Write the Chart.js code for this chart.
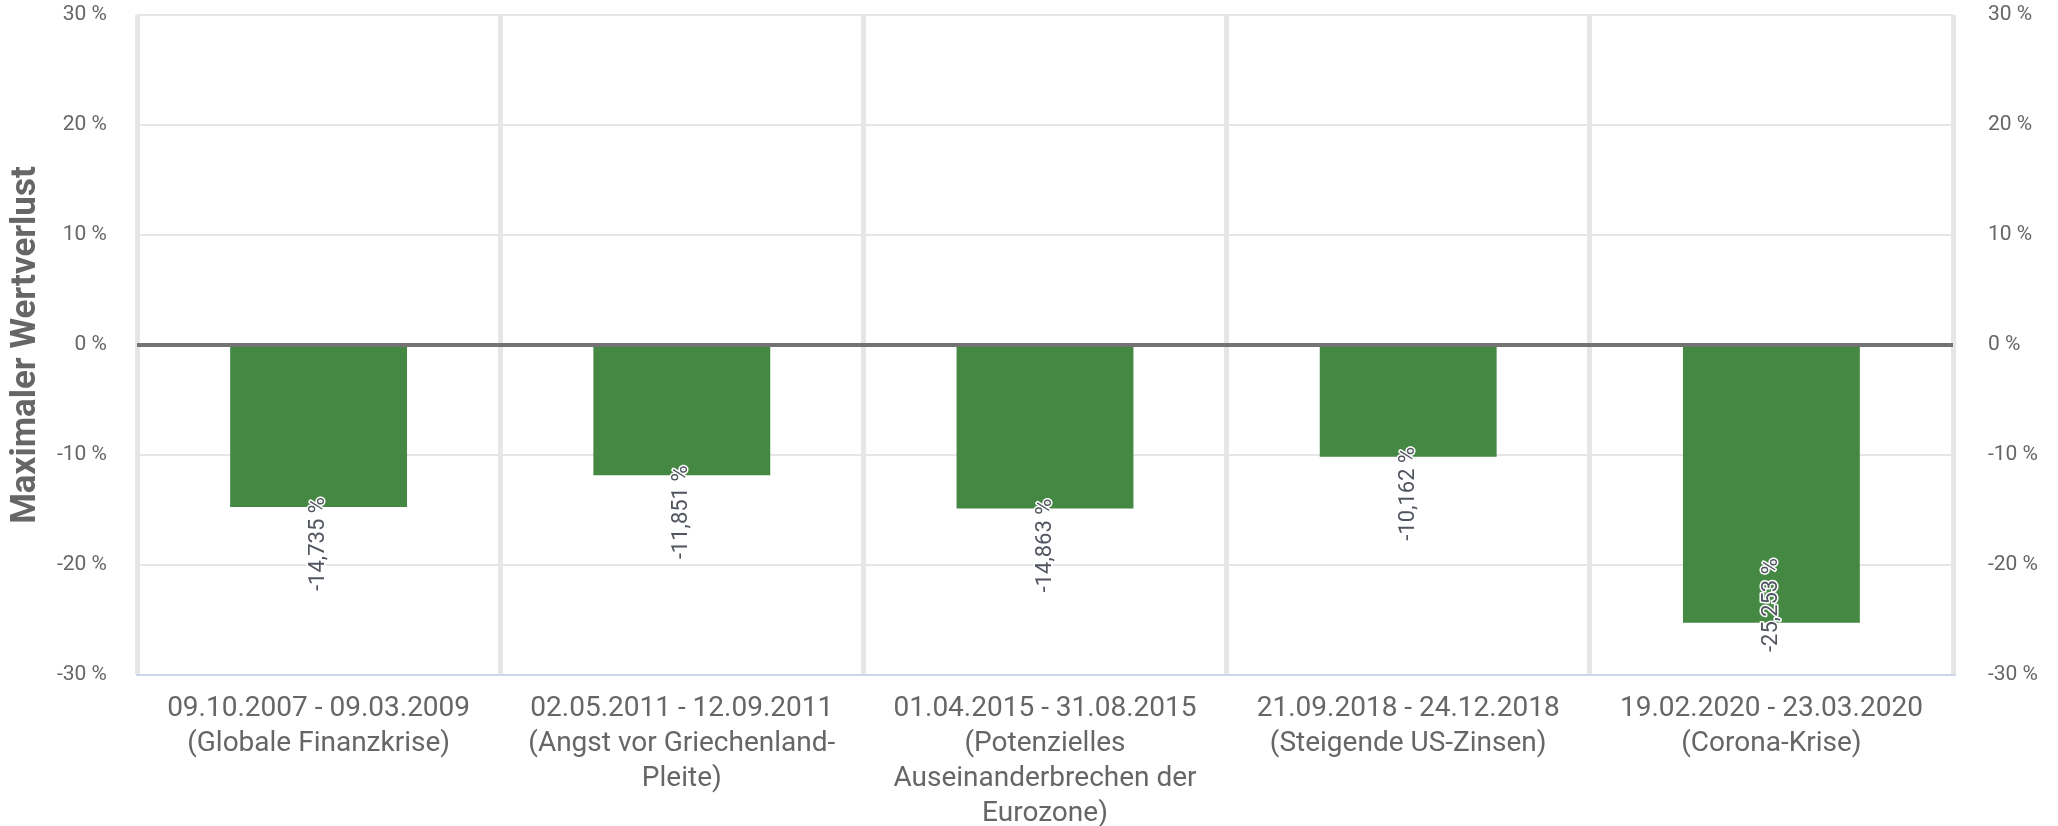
<!DOCTYPE html>
<html><head><meta charset="utf-8">
<script src="https://cdn.jsdelivr.net/npm/chart.js@4"></script>
<style>html,body{margin:0;padding:0;background:#fff;} #wrap{width:2058px;height:826px;position:relative;}</style>
</head><body><div id="wrap"><canvas id="c"></canvas></div>
<script>
const categories = [
  ["09.10.2007 - 09.03.2009", "(Globale Finanzkrise)"],
  ["02.05.2011 - 12.09.2011", "(Angst vor Griechenland-", "Pleite)"],
  ["01.04.2015 - 31.08.2015", "(Potenzielles", "Auseinanderbrechen der", "Eurozone)"],
  ["21.09.2018 - 24.12.2018", "(Steigende US-Zinsen)"],
  ["19.02.2020 - 23.03.2020", "(Corona-Krise)"]
];
const maxLoss = [-14.735, -11.851, -14.863, -10.162, -25.253];
const yMin = -30, yMax = 30, yStep = 10;
const yTitle = "Maximaler Wertverlust";

const fmtLabel = v => v.toFixed(3).replace('.', ',') + ' %';
const fmtTick = v => v + ' %';

const overlayPlugin = {
  id: 'overlay',
  afterDatasetsDraw(chart) {
    const {ctx, chartArea, scales} = chart;
    const y0 = scales.y.getPixelForValue(0);
    ctx.save();
    ctx.strokeStyle = '#737373';
    ctx.lineWidth = 4;
    ctx.beginPath();
    ctx.moveTo(chartArea.left, y0);
    ctx.lineTo(chartArea.right, y0);
    ctx.stroke();
    const meta = chart.getDatasetMeta(0);
    ctx.font = '22px Roboto';
    meta.data.forEach((bar, i) => {
      const txt = fmtLabel(maxLoss[i]);
      const w = ctx.measureText(txt).width;
      let cy = bar.y + 37;
      const limit = chartArea.bottom - 23;
      if (cy + w / 2 > limit) cy = limit - w / 2;
      ctx.save();
      ctx.translate(bar.x, cy);
      ctx.rotate(-Math.PI / 2);
      ctx.textAlign = 'center';
      ctx.textBaseline = 'middle';
      ctx.lineJoin = 'round';
      ctx.lineWidth = 3;
      ctx.strokeStyle = '#ffffff';
      ctx.strokeText(txt, 0, 0);
      ctx.fillStyle = '#50555f';
      ctx.fillText(txt, 0, 0);
      ctx.restore();
    });
    ctx.restore();
  }
};

function fixVertical(width) {
  return function (s) {
    s.width = width;
    s.paddingTop = 12;
    s.paddingBottom = 12;
  };
}

new Chart(document.getElementById('c'), {
  type: 'bar',
  data: {
    labels: categories,
    datasets: [{
      data: maxLoss,
      backgroundColor: '#448844',
      borderWidth: 0,
      categoryPercentage: 1,
      barPercentage: 0.487
    }]
  },
  options: {
    responsive: true,
    maintainAspectRatio: false,
    animation: false,
    devicePixelRatio: 1,
    layout: {padding: {top: 15, left: 0, right: 0, bottom: 0}},
    plugins: {legend: {display: false}, tooltip: {enabled: false}},
    scales: {
      x: {
        offset: true,
        grid: {offset: true, color: '#e6e6e6', lineWidth: 5, drawTicks: false},
        border: {display: true, color: '#ccd6eb', width: 2},
        ticks: {
          color: '#666666',
          font: {family: 'Roboto', size: 28, lineHeight: 1.25},
          padding: 16,
          maxRotation: 0,
          autoSkip: false
        },
        afterFit(s) { s.height = 151; }
      },
      y: {
        position: 'left',
        min: yMin, max: yMax,
        grid: {color: '#e6e6e6', lineWidth: 2, drawTicks: false},
        border: {display: false},
        ticks: {
          stepSize: yStep,
          color: '#666666',
          font: {family: 'Roboto', size: 21},
          padding: 30,
          callback: fmtTick
        },
        title: {
          display: true,
          text: yTitle,
          color: '#666666',
          font: {family: 'Roboto', size: 35, weight: 'bold'},
          padding: {top: 5, bottom: 0}
        },
        afterFit: fixVertical(137)
      },
      y2: {
        position: 'right',
        min: yMin, max: yMax,
        grid: {display: false, drawTicks: false},
        border: {display: false},
        ticks: {
          stepSize: yStep,
          color: '#666666',
          font: {family: 'Roboto', size: 21},
          padding: 35,
          callback: fmtTick
        },
        afterFit: fixVertical(105)
      }
    }
  },
  plugins: [overlayPlugin]
});
</script>
</body></html>
